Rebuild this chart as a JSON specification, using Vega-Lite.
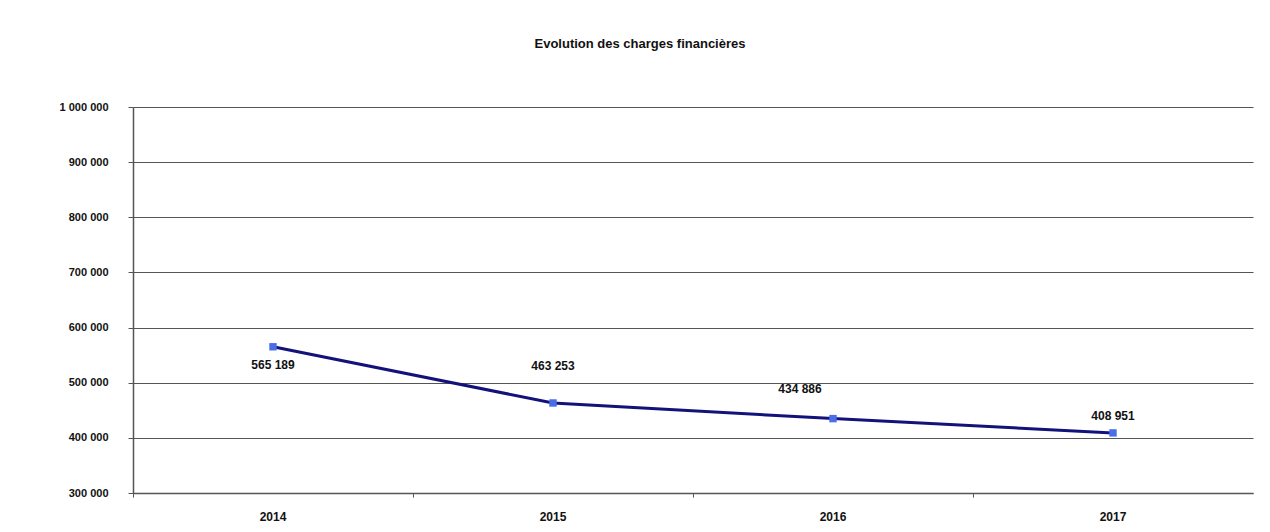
{
  "$schema": "https://vega.github.io/schema/vega-lite/v6.json",
  "autosize": {"type": "none"},
  "width": 1120,
  "height": 386,
  "padding": {"left": 133, "top": 107, "right": 17, "bottom": 39},
  "background": "white",
  "title": {
    "text": "Evolution des charges financières",
    "anchor": "middle",
    "dx": -53,
    "offset": 50,
    "font": "Liberation Sans",
    "fontSize": 13,
    "fontWeight": "bold",
    "color": "#111"
  },
  "config": {
    "locale": {
      "number": {"decimal": ",", "thousands": " ", "grouping": [3], "currency": ["", " €"]}
    },
    "view": {"stroke": null},
    "font": "Liberation Sans"
  },
  "data": {
    "values": [
      {"annee": "2014", "charges": 565189},
      {"annee": "2015", "charges": 463253},
      {"annee": "2016", "charges": 434886},
      {"annee": "2017", "charges": 408951}
    ]
  },
  "encoding": {
    "x": {
      "field": "annee",
      "type": "ordinal",
      "scale": {"type": "band", "paddingInner": 0, "paddingOuter": 0},
      "axis": {
        "title": null,
        "labelAngle": 0,
        "bandPosition": 0,
        "grid": false,
        "domainColor": "#555",
        "domainWidth": 1.5,
        "tickColor": "#555",
        "tickSize": 4,
        "labelPadding": 14,
        "labelFontSize": 12,
        "labelFontWeight": "bold",
        "labelColor": "#111"
      }
    },
    "y": {
      "field": "charges",
      "type": "quantitative",
      "scale": {"domain": [300000, 1000000], "nice": false, "zero": false},
      "axis": {
        "title": null,
        "values": [300000, 400000, 500000, 600000, 700000, 800000, 900000, 1000000],
        "format": ",d",
        "grid": true,
        "gridColor": "#555",
        "gridWidth": 1.2,
        "domainColor": "#555",
        "domainWidth": 1.5,
        "tickColor": "#555",
        "tickSize": 5,
        "labelPadding": 20,
        "labelFontSize": 11,
        "labelFontWeight": "bold",
        "labelColor": "#111"
      }
    }
  },
  "layer": [
    {
      "mark": {"type": "line", "color": "#12127a", "strokeWidth": 3}
    },
    {
      "mark": {"type": "point", "shape": "square", "filled": true, "color": "#4a6ee8", "size": 55, "opacity": 1}
    },
    {
      "transform": [{"filter": "datum.annee == '2014'"}],
      "mark": {"type": "text", "dy": 18, "fontSize": 12, "fontWeight": "bold", "color": "#111", "font": "Liberation Sans"},
      "encoding": {"text": {"field": "charges", "type": "quantitative", "format": ",d"}}
    },
    {
      "transform": [{"filter": "datum.annee == '2015'"}],
      "mark": {"type": "text", "dy": -37, "fontSize": 12, "fontWeight": "bold", "color": "#111", "font": "Liberation Sans"},
      "encoding": {"text": {"field": "charges", "type": "quantitative", "format": ",d"}}
    },
    {
      "transform": [{"filter": "datum.annee == '2016'"}],
      "mark": {"type": "text", "dy": -30, "dx": -33, "fontSize": 12, "fontWeight": "bold", "color": "#111", "font": "Liberation Sans"},
      "encoding": {"text": {"field": "charges", "type": "quantitative", "format": ",d"}}
    },
    {
      "transform": [{"filter": "datum.annee == '2017'"}],
      "mark": {"type": "text", "dy": -17, "fontSize": 12, "fontWeight": "bold", "color": "#111", "font": "Liberation Sans"},
      "encoding": {"text": {"field": "charges", "type": "quantitative", "format": ",d"}}
    }
  ]
}
